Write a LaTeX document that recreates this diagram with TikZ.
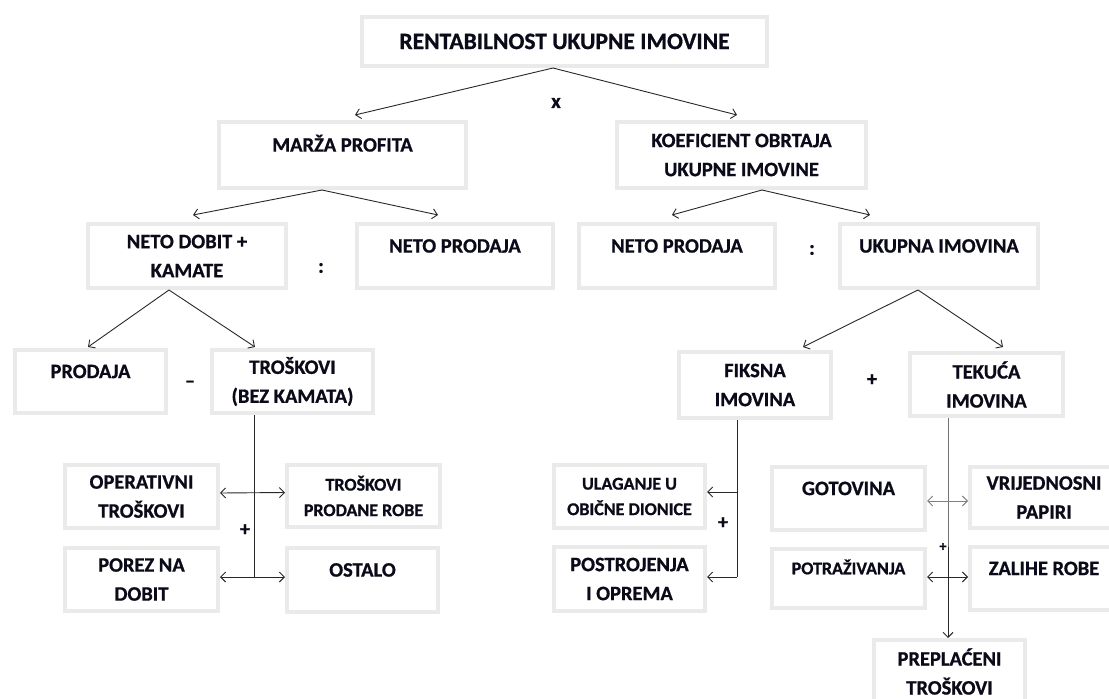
\documentclass[tikz,border=0pt]{standalone}
\usepackage{fontspec}
\setmainfont{Carlito}[BoldFeatures={FakeBold=0.8}]
\usetikzlibrary{arrows.meta,calc}
\definecolor{boxgray}{RGB}{234,234,234}
\definecolor{linecol}{RGB}{40,40,40}
\definecolor{txt}{RGB}{10,10,25}
\begin{document}
\begin{tikzpicture}[x=1pt,y=-1pt,
  >={Straight Barb[length=5pt,width=10pt]},
  nfont/.style={font=\bfseries\fontsize{20.5}{29}\selectfont},
  sfont/.style={font=\bfseries\fontsize{18}{25.5}\selectfont},
  box/.style 2 args={draw=boxgray, line width=4pt, minimum width={#1pt-4pt},
    minimum height={#2pt-4pt}, inner sep=0pt, text=txt, nfont},
  two/.style={align=center},
  topone/.style={text height=13.2pt, text depth=20pt},
  topsmall/.style={sfont, text height=11.6pt, text depth=20pt},
  conn/.style={draw=linecol, line width=0.9pt},
  sign/.style={inner sep=0pt, text=txt, nfont}
]
\fill[white] (0,0) rectangle (1109,699);
\useasboundingbox (0,0) rectangle (1109,699);

% level 1
\node[box={409}{53}, font=\bfseries\fontsize{23.5}{29}\selectfont, text height=15.1pt, text depth=0pt] (T) at (564.5,41.5) {RENTABILNOST UKUPNE IMOVINE};
% level 2
\node[box={251}{70}, topone] (M) at (342.5,155) {MARŽA PROFITA};
\node[box={253}{70}, two] (K) at (741.5,155) {KOEFICIENT OBRTAJA\\UKUPNE IMOVINE};
% level 3
\node[box={202}{68}, two] (ND) at (187,256) {NETO DOBIT +\\KAMATE};
\node[box={200}{68}, topone] (NP1) at (455,256) {NETO PRODAJA};
\node[box={200}{68}, topone] (NP2) at (677,256) {NETO PRODAJA};
\node[box={202}{68}, topone] (UI) at (939,256) {UKUPNA IMOVINA};
% level 4
\node[box={155}{67}, topone] (PR) at (90.5,381.5) {PRODAJA};
\node[box={165}{67}, two] (TR) at (292.5,381.5) {TROŠKOVI\\(BEZ KAMATA)};
\node[box={156}{70}, two] (FI) at (755,385) {FIKSNA\\IMOVINA};
\node[box={157}{67}, two] (TE) at (986.5,384.5) {TEKUĆA\\IMOVINA};
% level 5 left
\node[box={157}{67}, two] (OT) at (141.5,496.5) {OPERATIVNI\\TROŠKOVI};
\node[box={157}{66}, two, sfont] (TPR) at (363.5,496) {TROŠKOVI\\PRODANE ROBE};
\node[box={157}{67}, two] (PO) at (141.5,579.5) {POREZ NA\\DOBIT};
\node[box={155}{68}, topone] (OS) at (362.5,580) {OSTALO};
% level 5 middle
\node[box={155}{67}, two, sfont] (UL) at (629.5,496.5) {ULAGANJE U\\OBIČNE DIONICE};
\node[box={155}{68}, two] (PS) at (629.5,579) {POSTROJENJA\\I OPREMA};
% level 5 right
\node[box={157}{67}, topone] (G) at (848.5,498.5) {GOTOVINA};
\node[box={157}{63}, topsmall] (PT) at (848.5,578.5) {POTRAŽIVANJA};
\node[box={152}{65}, two] (V) at (1044,497.5) {VRIJEDNOSNI\\PAPIRI};
\node[box={152}{67}, topone] (Z) at (1044,578.5) {ZALIHE ROBE};
\node[box={155}{67}, two] (PP) at (949.5,671.5) {PREPLAĆENI\\TROŠKOVI};

% signs
\node[sign] (s1) at (556,103) {x};
\node[sign] (s2) at (321,268) {:};
\node[sign] (s3) at (812,250) {:};
\node[sign] (s4) at (190,384) {–};
\node[sign] (s5) at (872,380) {+};
\node[sign] (s6) at (245,530) {+};
\node[sign] (s7) at (723,523) {+};
\node[sign, font=\bfseries\fontsize{14}{16}\selectfont] (s8) at (943,547) {+};

% connectors
\draw[conn,->] ([xshift=-11.5pt]T.south) -- ([xshift=12.5pt,yshift=5pt]M.north);
\draw[conn,->] ([xshift=-11.5pt]T.south) -- ([xshift=-4.5pt,yshift=5pt]K.north);
\draw[conn,->] ([xshift=-20.5pt]M.south) -- ([xshift=6pt,yshift=7pt]ND.north);
\draw[conn,->] ([xshift=-20.5pt]M.south) -- ([xshift=-17pt,yshift=7pt]NP1.north);
\draw[conn,->] ([xshift=20.5pt]K.south) -- ([xshift=-5pt,yshift=7pt]NP2.north);
\draw[conn,->] ([xshift=20.5pt]K.south) -- ([xshift=-69pt,yshift=7pt]UI.north);
\draw[conn,->] ([xshift=-18pt]ND.south) -- ([xshift=-2.5pt,yshift=1pt]PR.north);
\draw[conn,->] ([xshift=-18pt]ND.south) -- ([xshift=-37.5pt,yshift=1pt]TR.north);
\draw[conn,->] ([xshift=-21pt]UI.south) -- ([xshift=48pt,yshift=3pt]FI.north);
\draw[conn,->] ([xshift=-21pt]UI.south) -- ([xshift=16.5pt,yshift=4pt]TE.north);

% costs branch
\coordinate (tj) at (254,577);
\draw[conn] ([xshift=-38.5pt]TR.south) -- (tj);
\draw[conn,<->] ([yshift=3.5pt]OT.east) -- ([yshift=3.5pt]TPR.west);
\draw[conn,<->] ([yshift=2.5pt]PO.east) -- ([yshift=3pt]OS.west);

% fixed assets branch
\coordinate (fa) at (737,492);
\coordinate (fb) at (737,577);
\draw[conn] ([xshift=-18pt]FI.south) -- (fb);
\draw[conn,->] (fa) -- ([yshift=4.5pt]UL.east);
\draw[conn,->] (fb) -- ([yshift=2pt]PS.east);

% current assets branch
\coordinate (ta) at (948,547);
\draw[conn,draw=black!55] ([xshift=-38.5pt]TE.south) -- (ta);
\draw[conn,->] (ta) -- ([xshift=-1.5pt]PP.north);
\draw[conn,<->,draw=black!50] ([yshift=-2.5pt]G.east) -- ([yshift=-3.5pt]V.west);
\draw[conn,<->] ([yshift=1.5pt]PT.east) -- ([yshift=1.5pt]Z.west);
\end{tikzpicture}
\end{document}
